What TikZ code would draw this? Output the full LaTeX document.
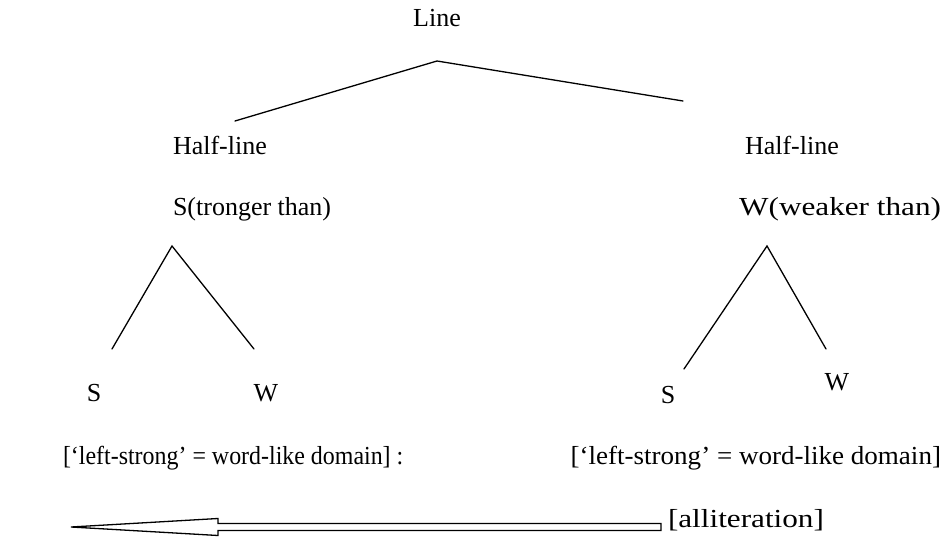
\documentclass[tikz,border=0pt]{standalone}
\usepackage{fontspec}
\setmainfont{Liberation Serif}
\begin{document}
\begin{tikzpicture}[x=1pt,y=-1pt,
  lbl/.style={inner sep=0pt,outer sep=0pt,font=\fontsize{26}{30}\selectfont},
  edge/.style={line width=1.3pt,line cap=round},
  hollow/.style={draw,line width=1.3pt,fill=white,line join=miter}]
\useasboundingbox (0,0) rectangle (951,543);
% texts (base anchors)
\node[lbl,anchor=base] (line) at (437,27) {Line};
\node[lbl,anchor=base west] (hl) at (173,154) {Half-line};
\node[lbl,anchor=base west] (sl) at (173,215) {S(tronger than)};
\node[lbl,anchor=base west] (hr) at (745,154) {Half-line};
\node[lbl,anchor=base east] (wr) at (941,215) {\scalebox{1.2}[1]{W(weaker than)}};
\node[lbl,anchor=base] (ls) at (94,401) {S};
\node[lbl,anchor=base] (lw) at (266,401) {W};
\node[lbl,anchor=base] (rs) at (668,403) {S};
\node[lbl,anchor=base] (rw) at (837,390) {W};
\node[lbl,anchor=base west] (dl) at (63,464) {\scalebox{0.92}[1]{[‘left-strong’ = word-like domain] :}};
\node[lbl,anchor=base east] (dr) at (941,464) {\scalebox{1.04}[1]{[‘left-strong’ = word-like domain]}};
\node[lbl,anchor=base west] (al) at (668,527) {\scalebox{1.2}[1]{[alliteration]}};
% tree line ends
\coordinate (top) at (437,61);
\coordinate (tl) at (235,121);
\coordinate (tr) at (683,101);
\coordinate (la) at (172,246);
\coordinate (l1) at (112,349);
\coordinate (l2) at (254,349);
\coordinate (ra) at (767,246);
\coordinate (r1) at (684,369);
\coordinate (r2) at (826,349);
\draw[edge] (tl) -- (top) -- (tr);
\draw[edge] (l1) -- (la) -- (l2);
\draw[edge] (r1) -- (ra) -- (r2);
% hollow arrow
\coordinate (tip) at (71,527);
\coordinate (tail) at (661,527);
\draw[hollow] (tip) -- (218,518.5) -- (218,523.5) -- (tail |- 0,523.5) -- (tail |- 0,530.5) -- (218,530.5) -- (218,535.5) -- cycle;
\end{tikzpicture}
\end{document}
